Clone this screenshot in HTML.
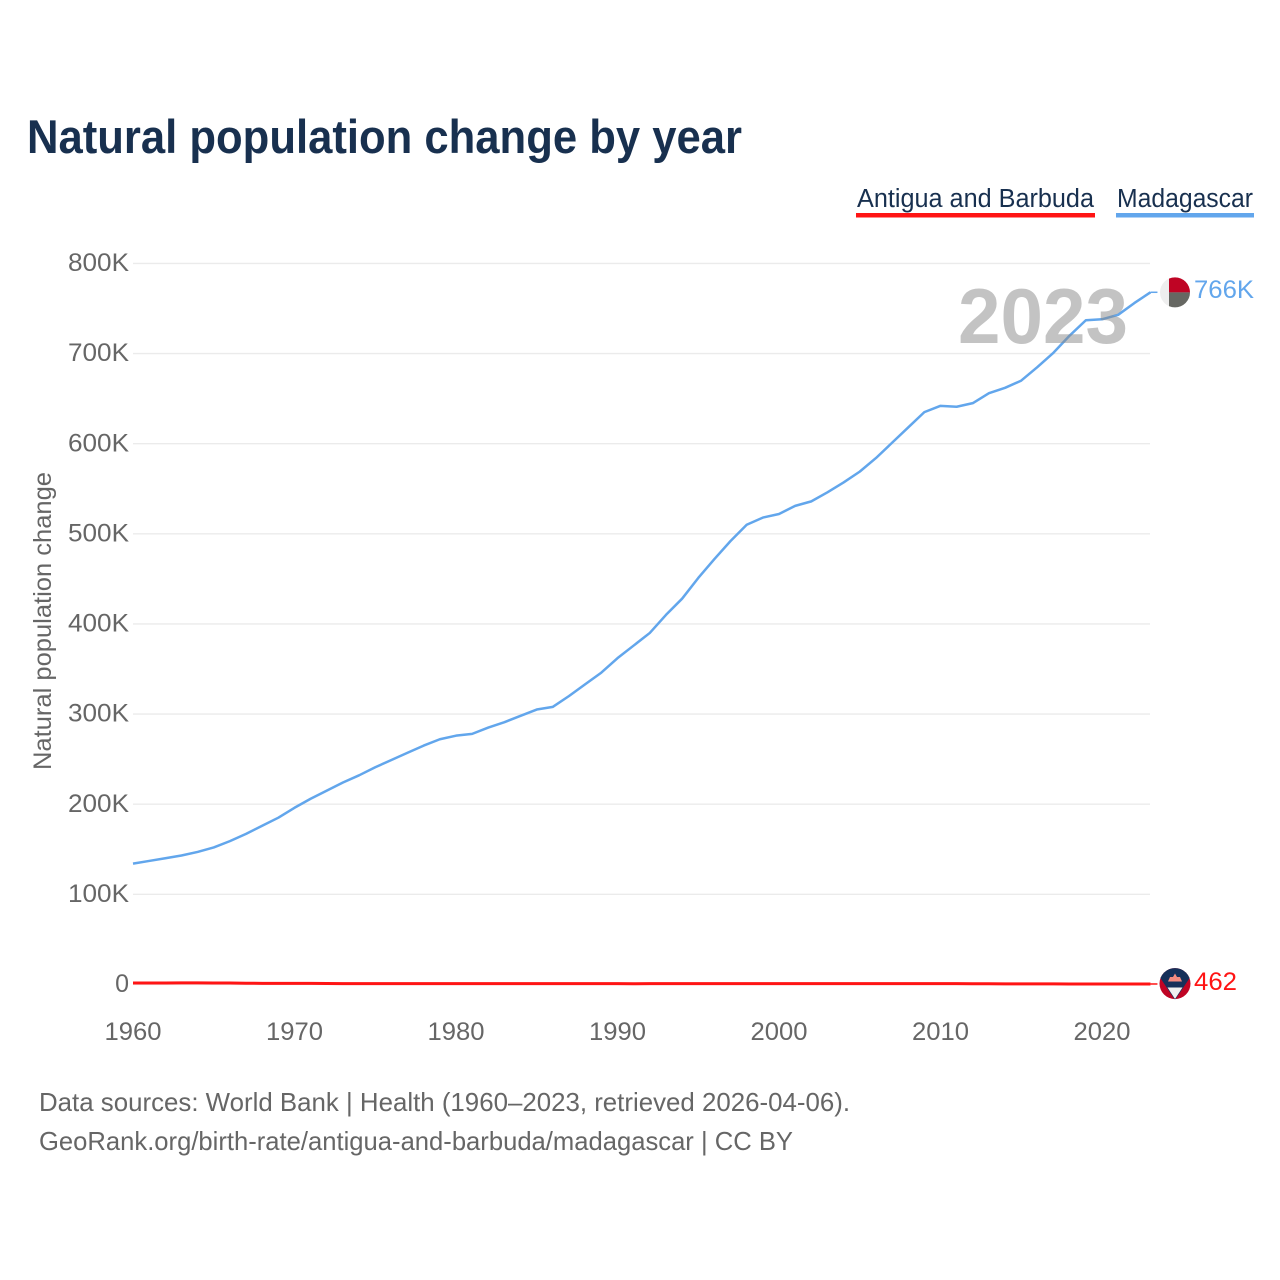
<!DOCTYPE html>
<html lang="en">
<head>
<meta charset="utf-8">
<title>Natural population change by year</title>
<style>
html,body{margin:0;padding:0;background:#fff;width:1280px;height:1280px;overflow:hidden}
svg{display:block;font-family:"Liberation Sans",sans-serif}
</style>
</head>
<body>
<svg id="chart" width="1280" height="1280" viewBox="0 0 1280 1280" xmlns="http://www.w3.org/2000/svg">
  <defs>
    <clipPath id="clip-mg"><circle cx="1175" cy="292.4" r="15"/></clipPath>
    <clipPath id="clip-ag"><circle cx="1175" cy="983.6" r="15.5"/></clipPath>
  </defs>
  <rect x="0" y="0" width="1280" height="1280" fill="#fff"/>
  <text x="27" y="153" font-size="47" font-weight="700" fill="#18304f" textLength="715" lengthAdjust="spacingAndGlyphs">Natural population change by year</text>

  <g>
    <g>
      <text x="857" y="207" font-size="25.5" fill="#18304f" textLength="237" lengthAdjust="spacingAndGlyphs">Antigua and Barbuda</text>
      <rect x="856" y="213" width="239" height="4.5" fill="#ff1414"/>
    </g>
    <g>
      <text x="1117" y="207" font-size="25.5" fill="#18304f" textLength="136" lengthAdjust="spacingAndGlyphs">Madagascar</text>
      <rect x="1116" y="213" width="138" height="4.5" fill="#62a6ec"/>
    </g>
  </g>

  <g id="grid"></g>
  <g id="y-labels"></g>
  <g id="x-labels"></g>
  <text transform="translate(51,621) rotate(-90)" text-anchor="middle" font-size="25" fill="#666" textLength="298" lengthAdjust="spacingAndGlyphs">Natural population change</text>

  <g id="series"></g>

  <text x="958" y="343" font-size="78" font-weight="700" fill="#878787" fill-opacity="0.5" textLength="170" lengthAdjust="spacingAndGlyphs">2023</text>

  <g clip-path="url(#clip-mg)">
    <rect x="1160" y="277" width="10" height="31" fill="#eeeeee"/>
    <rect x="1169" y="277" width="22" height="15.4" fill="#bf0424"/>
    <rect x="1169" y="292.4" width="22" height="16" fill="#666762"/>
  </g>
  <g clip-path="url(#clip-ag)">
    <rect x="1159" y="968" width="32" height="32" fill="#bf0424"/>
    <polygon points="1159,968 1191,968 1191,976 1175,1000 1159,976" fill="#16305a"/>
    <polygon points="1167.5,987.5 1182.5,987.5 1175,999" fill="#f0f0f0"/>
    <polygon points="1168,981.5 1170,977 1173,977 1175,973.5 1177,977 1180,977 1182,981.5" fill="#f58b80"/>
  </g>
  <text id="label-mg" x="1194" y="298" font-size="25" fill="#62a6ec" textLength="60" lengthAdjust="spacingAndGlyphs"></text>
  <text id="label-ag" x="1194" y="990" font-size="25" fill="#ff1414" textLength="43" lengthAdjust="spacingAndGlyphs"></text>

  <text x="39" y="1111" font-size="26" fill="#666" textLength="811" lengthAdjust="spacingAndGlyphs">Data sources: World Bank | Health (1960–2023, retrieved 2026-04-06).</text>
  <text x="39" y="1150" font-size="26" fill="#666" textLength="754" lengthAdjust="spacingAndGlyphs">GeoRank.org/birth-rate/antigua-and-barbuda/madagascar | CC BY</text>
</svg>
<script>
// Chart data (values in thousands)
const years = [1960,1961,1962,1963,1964,1965,1966,1967,1968,1969,1970,1971,1972,1973,1974,1975,1976,1977,1978,1979,1980,1981,1982,1983,1984,1985,1986,1987,1988,1989,1990,1991,1992,1993,1994,1995,1996,1997,1998,1999,2000,2001,2002,2003,2004,2005,2006,2007,2008,2009,2010,2011,2012,2013,2014,2015,2016,2017,2018,2019,2020,2021,2022,2023];
const madagascar = [134,137,140,143,147,152,159,167,176,185,196,206,215,224,232,241,249,257,265,272,276,278,285,291,298,305,308,320,333,346,362,376,390,410,428,451,472,492,510,518,522,531,536,546,557,569,584,601,618,635,642,641,645,656,662,670,685,701,720,737,738,743,756,768];
const antigua = [1.5,1.5,1.5,1.7,1.7,1.6,1.5,1.3,1.2,1.2,1.2,1.1,1.0,0.9,0.9,0.9,0.9,0.9,0.8,0.8,0.8,0.8,0.8,0.8,0.8,0.8,0.8,0.8,0.8,0.8,0.8,0.7,0.8,0.8,0.8,0.8,0.8,0.8,0.8,0.8,0.8,0.8,0.8,0.8,0.8,0.8,0.8,0.8,0.8,0.8,0.8,0.8,0.7,0.7,0.6,0.6,0.6,0.6,0.5,0.5,0.5,0.5,0.5,0.46];
const yTicks = [0,100,200,300,400,500,600,700,800];
const yTickLabels = ["0","100K","200K","300K","400K","500K","600K","700K","800K"];
const xTicks = [1960,1970,1980,1990,2000,2010,2020];
const endLabels = ["766K","462"];

const NS = "http://www.w3.org/2000/svg";
function xScale(year){ return 133 + (year - 1960) * 16.15; }
function yScale(v){ return 984.4 - v * 0.9012; }
function make(tag, attrs, parent){
  const el = document.createElementNS(NS, tag);
  for (const k in attrs) el.setAttribute(k, attrs[k]);
  parent.appendChild(el);
  return el;
}

const grid = document.getElementById("grid");
const yLabels = document.getElementById("y-labels");
const xLabels = document.getElementById("x-labels");
const seriesGroup = document.getElementById("series");

yTicks.forEach(function(t, i){
  const line = make("line", {x1:133, x2:1150, y1:yScale(t), y2:yScale(t), stroke:"#ebebeb", "stroke-width":1.4}, grid);
  
  
  const lab = make("text", {x:129, y:yScale(t)+7.6, "text-anchor":"end", "font-size":25, fill:"#666"}, yLabels);
  
  
  if (yTickLabels[i].length > 1) {
    lab.setAttribute("textLength", 61);
    lab.setAttribute("lengthAdjust", "spacingAndGlyphs");
  }
  lab.textContent = yTickLabels[i];
});

xTicks.forEach(function(t){
  const lab = make("text", {x:xScale(t), y:1040, "text-anchor":"middle", "font-size":25, fill:"#666", textLength:57, lengthAdjust:"spacingAndGlyphs"}, xLabels);
  
  
  lab.textContent = t;
});

function drawSeries(values, color, width, name){
  let d = "";
  values.forEach(function(v, i){
    d += (i ? "L" : "M") + xScale(years[i]).toFixed(2) + " " + yScale(v).toFixed(2);
  });
  const path = make("path", {d:d, fill:"none", stroke:color, "stroke-width":width, "stroke-linejoin":"round"}, seriesGroup);
  
  
  const last = values[values.length - 1];
  const lastX = xScale(years[years.length - 1]);
  const stub = make("line", {x1:lastX, x2:lastX + 7, y1:yScale(last), y2:yScale(last), stroke:color, "stroke-width":1.5}, seriesGroup);
  
  
}
drawSeries(madagascar, "#62a6ec", 2.5, "line-madagascar");
drawSeries(antigua, "#ff1414", 3, "line-antigua-and-barbuda");

document.getElementById("label-mg").textContent = endLabels[0];
document.getElementById("label-ag").textContent = endLabels[1];
</script>
</body>
</html>
